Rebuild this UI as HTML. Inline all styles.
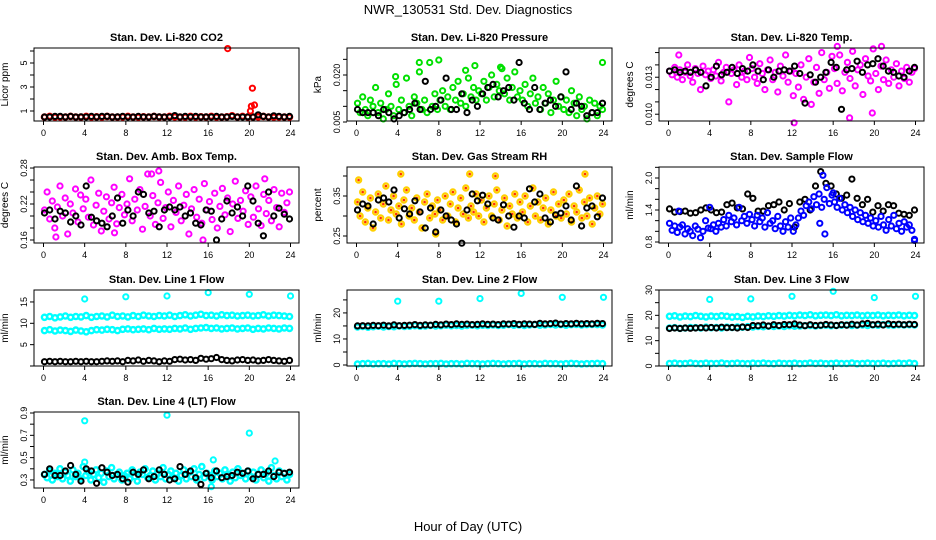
<!DOCTYPE html>
<html><head><meta charset="utf-8"><style>
html,body{margin:0;padding:0;background:#fff}
svg{display:block;font-family:"Liberation Sans",Arial,sans-serif}
</style></head><body>
<svg id="chart" width="936" height="540" viewBox="0 0 936 540" xmlns="http://www.w3.org/2000/svg">
<rect width="936" height="540" fill="#fff"/>
<text x="468" y="14" text-anchor="middle" font-size="13">NWR_130531  Std. Dev. Diagnostics</text>
<text x="468" y="531" text-anchor="middle" font-size="13">Hour of Day (UTC)</text>
<g id="plots"></g>
</svg>
<script>
// ---- data ----
const hourTicks=[0,4,8,12,16,20,24];
const co2Red=[0.5,0.55,0.5,0.52,0.5,0.55,0.5,0.5,0.55,0.5,0.52,0.5,0.55,0.5,0.5,0.52,0.55,0.5,0.5,0.52,0.5,0.55,0.5,0.5,0.55,0.52,0.5,0.5,0.55,0.5,0.52,0.5,0.55,0.5,0.5,0.52,0.6,0.5,0.55,0.5,0.5,0.52,0.55,0.5,0.5,0.52,0.5,0.5];
const co2Black=[0.5,0.5,0.55,0.55,0.5,0.55,0.5,0.52,0.5,0.55,0.5,0.55,0.55,0.5,0.52,0.55,0.5,0.5,0.55,0.5,0.5,0.55,0.52,0.5,0.5,0.62,0.5,0.55,0.5,0.55,0.5,0.52,0.5,0.55,0.5,0.5,0.55,0.5,0.5,0.52,0.5,0.68,0.55,0.5,0.6,0.55,0.5,0.55];
const co2ExtraHours=[17.9,20.3,20.2,20.5,20.1];
const co2ExtraVals=[6.2,2.9,1.4,1.5,1.0];
const presGreen=[0.011,0.008,0.013,0.009,0.007,0.012,0.010,0.016,0.008,0.011,0.006,0.009,0.014,0.010,0.007,0.017,
0.009,0.012,0.008,0.019,0.010,0.007,0.013,0.011,0.021,0.009,0.012,0.008,0.024,0.010,0.014,0.009,
0.012,0.015,0.010,0.013,0.009,0.016,0.012,0.018,0.011,0.014,0.010,0.019,0.013,0.016,0.012,0.015,
0.014,0.018,0.012,0.016,0.020,0.013,0.017,0.015,0.022,0.014,0.019,0.012,0.016,0.021,0.013,0.015,
0.012,0.017,0.010,0.014,0.019,0.011,0.013,0.009,0.016,0.011,0.014,0.008,0.012,0.018,0.010,0.013,
0.009,0.012,0.008,0.015,0.011,0.007,0.013,0.009,0.010,0.006,0.012,0.008,0.011,0.007,0.010,0.009];
const presBlack=[0.009,0.008,0.008,0.008,0.007,0.009,0.008,0.006,0.007,0.008,0.009,0.011,0.009,0.018,0.009,0.010,0.012,0.019,0.009,0.009,0.014,0.008,0.012,0.010,0.014,0.016,0.017,0.013,0.015,0.016,0.012,0.024,0.011,0.009,0.016,0.009,0.011,0.012,0.010,0.013,0.021,0.009,0.011,0.010,0.007,0.008,0.008,0.011];
const presExtraHours=[6.1,8.0,23.9,11.5,14.0,3.8,10.6];
const presExtraVals=[0.024,0.0248,0.024,0.023,0.0225,0.0195,0.0215];
const tempMag=[0.0135,0.0132,0.0138,0.0130,0.0136,0.0128,0.0134,0.0140,0.0131,0.0126,0.0137,0.0133,0.0120,0.0139,0.0132,0.0135,
0.0129,0.0136,0.0131,0.0142,0.0127,0.0134,0.0138,0.0110,0.0133,0.0136,0.0124,0.0140,0.0130,0.0135,0.0128,0.0146,
0.0137,0.0130,0.0125,0.0141,0.0133,0.0120,0.0136,0.0144,0.0128,0.0134,0.0118,0.0139,0.0131,0.0148,0.0126,0.0135,
0.0115,0.0133,0.0122,0.0140,0.0112,0.0130,0.0145,0.0108,0.0126,0.0138,0.0117,0.0150,0.0128,0.0134,0.0121,0.0147,
0.0137,0.0125,0.0148,0.0119,0.0134,0.0142,0.0129,0.0151,0.0123,0.0136,0.0140,0.0116,0.0145,0.0131,0.0127,0.0153,
0.0133,0.0120,0.0139,0.0128,0.0144,0.0125,0.0136,0.0130,0.0141,0.0123,0.0135,0.0129,0.0138,0.0126,0.0134,0.0137];
const tempBlack=[0.0135,0.0136,0.0134,0.0135,0.0134,0.0136,0.0134,0.0123,0.0130,0.0139,0.0132,0.0134,0.0138,0.0133,0.0137,0.0135,0.0140,0.0135,0.0128,0.0136,0.0130,0.0135,0.0136,0.0135,0.0139,0.0133,0.0109,0.0132,0.0126,0.0130,0.0134,0.0142,0.0138,0.0104,0.0136,0.0137,0.0143,0.0134,0.0140,0.0141,0.0145,0.0139,0.0135,0.0134,0.0131,0.0130,0.0135,0.0138];
const tempExtraHours=[12.2,17.6,20.7,16.4,19.8,1.0];
const tempExtraVals=[0.0093,0.0097,0.0155,0.0155,0.0101,0.0148];
const ambMag=[0.210,0.240,0.195,0.225,0.180,0.215,0.250,0.200,0.230,0.170,0.220,0.205,0.245,0.190,0.235,0.212,
0.228,0.198,0.260,0.185,0.218,0.238,0.175,0.208,0.232,0.195,0.222,0.248,0.187,0.214,0.236,0.202,
0.220,0.262,0.192,0.228,0.210,0.244,0.178,0.216,0.270,0.200,0.234,0.186,0.222,0.256,0.196,0.214,
0.240,0.182,0.226,0.206,0.250,0.192,0.218,0.236,0.170,0.212,0.244,0.198,0.228,0.188,0.254,0.210,
0.224,0.194,0.238,0.180,0.216,0.246,0.202,0.230,0.174,0.220,0.258,0.196,0.226,0.208,0.242,0.186,
0.232,0.198,0.250,0.212,0.184,0.236,0.204,0.226,0.192,0.244,0.214,0.182,0.238,0.206,0.222,0.240];
const ambBlack=[0.205,0.210,0.195,0.208,0.205,0.190,0.200,0.185,0.250,0.198,0.192,0.188,0.182,0.200,0.230,0.188,0.210,0.200,0.240,0.236,0.205,0.208,0.182,0.210,0.215,0.210,0.215,0.200,0.205,0.188,0.185,0.210,0.208,0.160,0.195,0.225,0.205,0.215,0.200,0.250,0.225,0.188,0.167,0.240,0.200,0.213,0.203,0.195];
const ambExtraHours=[11.2,10.5,1.2,15.5,6.9,21.5];
const ambExtraVals=[0.275,0.270,0.165,0.160,0.172,0.262];
const rhOrange=[0.335,0.300,0.360,0.285,0.320,0.345,0.270,0.310,0.355,0.295,0.330,0.375,0.290,0.315,0.350,0.305,
0.325,0.280,0.340,0.365,0.300,0.320,0.290,0.345,0.310,0.270,0.335,0.355,0.295,0.325,0.305,0.340,
0.315,0.290,0.350,0.300,0.330,0.360,0.285,0.320,0.345,0.305,0.370,0.295,0.325,0.310,0.355,0.300,
0.340,0.285,0.320,0.350,0.300,0.330,0.365,0.290,0.315,0.345,0.275,0.325,0.305,0.355,0.295,0.335,
0.310,0.350,0.285,0.325,0.370,0.300,0.335,0.290,0.320,0.345,0.280,0.315,0.360,0.300,0.330,0.295,
0.340,0.305,0.355,0.285,0.325,0.310,0.365,0.295,0.335,0.300,0.345,0.280,0.320,0.350,0.305,0.330];
const rhBlack=[0.315,0.330,0.325,0.280,0.340,0.345,0.335,0.365,0.295,0.318,0.305,0.338,0.310,0.270,0.320,0.260,0.315,0.300,0.290,0.280,0.232,0.315,0.355,0.338,0.352,0.330,0.295,0.290,0.328,0.300,0.272,0.300,0.295,0.368,0.335,0.355,0.295,0.285,0.303,0.307,0.325,0.290,0.375,0.275,0.320,0.325,0.298,0.345];
const rhExtraHours=[0.2,4.3,11.0,13.5,22.2,7.7];
const rhExtraVals=[0.39,0.405,0.405,0.40,0.405,0.255];
const flowBlue=[1.15,1.02,1.10,0.98,1.08,1.12,0.95,1.05,1.00,0.92,1.10,1.04,0.88,1.00,1.20,1.06,
1.05,1.12,1.00,1.15,1.08,1.22,1.10,1.30,1.18,1.25,1.12,1.45,1.20,1.28,1.15,1.32,
1.22,1.10,1.30,1.18,1.25,1.08,1.35,1.15,1.20,1.05,1.28,1.10,1.00,1.18,1.08,1.25,
1.00,1.12,1.25,1.38,1.30,1.48,1.55,1.42,1.65,1.50,1.70,1.45,1.60,1.82,1.52,1.68,
1.55,1.45,1.62,1.40,1.50,1.35,1.45,1.28,1.40,1.22,1.35,1.18,1.30,1.15,1.25,1.10,
1.20,1.08,1.28,1.12,1.02,1.22,1.10,1.30,1.05,1.15,1.00,1.18,1.08,1.12,1.02,0.85];
const flowBlack=[1.42,1.36,1.37,1.38,1.34,1.35,1.40,1.44,1.40,1.35,1.36,1.50,1.53,1.44,1.42,1.70,1.62,1.38,1.38,1.48,1.50,1.55,1.40,1.52,1.08,1.55,1.60,1.40,1.85,2.12,1.90,1.85,1.70,1.62,1.68,1.98,1.62,1.50,1.60,1.36,1.48,1.38,1.50,1.48,1.34,1.32,1.30,1.40];
const flowExtraHours=[15.0,15.2,14.7,4.0,1.0,16.0,23.9];
const flowExtraVals=[2.05,0.95,1.15,1.45,1.38,1.72,0.83];
const line1Upper=[11.4,11.6,11.3,11.5,11.7,11.4,11.6,11.5,11.8,11.4,11.6,11.7,11.5,11.9,11.6,11.7,11.5,11.8,11.6,11.9,11.7,11.6,11.8,11.7,11.9,11.6,11.8,12.0,11.7,11.9,12.1,11.8,11.9,11.7,12.0,11.8,11.9,11.7,11.8,11.9,11.7,11.8,12.0,11.7,11.9,11.8,11.7,11.6];
const line1Lower=[8.3,8.5,8.2,8.4,8.3,8.1,8.4,8.2,8.0,8.3,8.5,8.4,8.6,8.5,8.3,8.6,8.7,8.5,8.6,8.7,8.5,8.8,8.6,8.7,8.6,8.8,8.7,8.9,8.6,8.8,8.9,9.0,8.8,8.9,8.7,8.8,8.9,8.7,8.8,8.9,8.6,8.8,8.7,8.9,8.8,8.7,8.9,8.8];
const line1Black=[1.0,1.1,1.0,1.1,1.0,1.0,1.1,1.0,1.1,1.0,1.0,1.1,1.2,1.1,1.2,1.0,1.3,1.2,1.4,1.1,1.3,1.2,1.0,1.2,1.1,1.5,1.6,1.4,1.5,1.3,1.8,1.6,1.7,2.0,1.5,1.3,1.2,1.4,1.5,1.3,1.4,1.2,1.3,1.5,1.3,1.2,1.1,1.3];
const line1ExtraHours=[4,8,12,16,20,24];
const line1ExtraVals=[15.7,16.2,16.4,17.2,16.8,16.4];
const line2Cyan=[14.6,14.8,14.5,14.7,14.9,14.6,14.8,14.7,15.0,14.8,14.9,15.1,14.9,15.0,15.2,15.0,15.1,15.3,15.1,15.2,15.0,15.2,15.3,15.1,15.3,15.2,15.4,15.2,15.3,15.5,15.3,15.4,15.2,15.4,15.5,15.3,15.4,15.6,15.4,15.5,15.3,15.5,15.6,15.4,15.5,15.6,15.5,15.4];
const line2Low=[0.4,0.5,0.6,0.4,0.5,0.5,0.4,0.6,0.5,0.4,0.5,0.6,0.5,0.4,0.5,0.5,0.6,0.4,0.5,0.5,0.4,0.6,0.5,0.5,0.4,0.5,0.6,0.5,0.4,0.5,0.5,0.6,0.4,0.5,0.5,0.4,0.6,0.5,0.5,0.4,0.5,0.6,0.5,0.4,0.5,0.5,0.6,0.5];
const line2Black=[15.0,15.1,15.0,15.2,15.1,15.3,15.0,15.4,15.1,15.2,15.3,15.5,15.2,15.4,15.3,15.6,15.4,15.7,15.5,15.8,15.6,15.7,15.5,15.6,15.8,15.6,15.7,15.5,15.8,15.7,15.9,15.6,15.8,15.7,15.6,16.0,15.8,15.9,16.1,15.7,15.9,15.8,16.0,15.8,15.9,15.8,16.0,15.9];
const line2ExtraHours=[4,8,12,16,20,24];
const line2ExtraVals=[24.5,24.5,25.5,27.5,26.0,26.0];
const line3Upper=[19.6,19.8,19.4,19.7,19.5,19.9,19.6,19.4,19.7,19.5,19.8,19.6,19.3,19.5,19.2,19.6,19.4,19.7,19.5,19.8,19.6,19.9,19.7,20.0,19.8,20.1,19.9,20.2,19.8,20.0,20.1,19.9,20.2,19.8,20.0,19.9,20.1,19.8,20.0,19.9,20.1,19.8,20.0,19.9,20.1,19.8,20.0,19.9];
const line3Mid=[15.0,15.1,14.9,15.0,15.2,15.1,15.0,15.3,15.1,15.2,15.0,15.3,15.2,15.4,15.3,15.5,15.4,15.6,15.5,15.7,15.6,15.8,15.6,15.9,15.7,15.8,15.9,16.0,15.8,16.0,16.1,15.9,16.0,16.1,16.2,16.0,16.1,16.2,16.0,16.2,16.1,16.3,16.2,16.1,16.3,16.2,16.3,16.2];
const line3Low=[1.0,1.1,0.9,1.0,1.2,1.0,0.9,1.1,1.0,1.0,1.2,0.9,1.0,1.1,1.0,0.9,1.1,1.0,1.2,1.0,0.9,1.1,1.0,1.0,1.1,0.9,1.0,1.2,1.0,1.1,0.9,1.0,1.1,1.0,1.0,1.2,0.9,1.0,1.1,1.0,1.0,1.1,0.9,1.0,1.1,1.0,1.2,1.0];
const line3Black=[14.8,15.0,14.8,15.0,14.9,15.0,15.1,15.0,15.2,15.0,15.3,15.1,15.2,15.0,15.4,15.2,16.0,15.9,16.2,15.8,16.3,16.0,16.4,16.3,16.6,16.2,15.9,16.3,16.0,16.1,16.4,16.2,16.0,16.3,16.1,16.5,16.2,16.6,16.8,16.3,16.5,16.2,16.6,16.4,16.5,16.3,16.5,16.4];
const line3ExtraHours=[4,8,12,16,20,24];
const line3ExtraVals=[26.3,26.5,27.5,29.5,27.0,27.5];
const line4Cyan=[0.35,0.32,0.38,0.30,0.36,0.33,0.40,0.31,0.37,0.34,0.29,0.39,0.33,0.36,0.31,0.42,
0.34,0.37,0.30,0.35,0.39,0.32,0.36,0.28,0.38,0.33,0.41,0.31,0.35,0.37,0.30,0.34,
0.36,0.31,0.39,0.33,0.29,0.37,0.35,0.40,0.32,0.34,0.38,0.30,0.36,0.33,0.41,0.31,
0.35,0.38,0.32,0.36,0.29,0.34,0.39,0.31,0.37,0.33,0.40,0.30,0.35,0.42,0.32,0.36,
0.34,0.30,0.38,0.33,0.36,0.31,0.39,0.35,0.29,0.37,0.32,0.40,0.34,0.36,0.31,0.38,
0.33,0.37,0.30,0.35,0.39,0.32,0.36,0.29,0.41,0.34,0.31,0.38,0.33,0.36,0.30,0.35];
const line4Black=[0.35,0.40,0.34,0.34,0.38,0.43,0.35,0.29,0.40,0.38,0.27,0.41,0.37,0.34,0.35,0.31,0.28,0.37,0.35,0.39,0.31,0.33,0.39,0.35,0.30,0.31,0.42,0.35,0.38,0.32,0.26,0.36,0.32,0.38,0.32,0.33,0.34,0.37,0.36,0.38,0.31,0.35,0.35,0.38,0.33,0.37,0.36,0.37];
const line4ExtraHours=[4.0,12.0,20.0,4.0,16.5,22.5,16.3];
const line4ExtraVals=[0.83,0.88,0.72,0.46,0.48,0.47,0.24];

// ---- layout ----
const NS='http://www.w3.org/2000/svg';
const root=document.getElementById('plots');
function mk(tag,attrs,parent){const e=document.createElementNS(NS,tag);for(const k in attrs)e.setAttribute(k,attrs[k]);(parent||root).appendChild(e);return e;}
function panel(p){
  const g=mk('g',{});
  
  
  const L=p.left,T=p.top,W=265,B=p.bottom;
  const xs=h=>L+9.5+h*(247/24);
  const ys=v=>B-(v-p.ymin)/(p.ymax-p.ymin)*(B-T);
  const t=mk('text',{x:L+W/2,y:T-7,'text-anchor':'middle','font-size':11,'font-weight':'bold'},g);
  t.textContent=p.title;
  
  
  const yl=mk('text',{transform:`translate(${L-26},${(T+B)/2}) rotate(-90)`,'text-anchor':'middle','font-size':10},g);
  yl.textContent=p.ylab;
  
  
  p.series.forEach(s=>{
    const sg=mk('g',{fill:'none',stroke:s.color,'stroke-width':s.sw||2},g);
    
    
    const n=s.vals.length;
    s.vals.forEach((v,i)=>{
      const h=s.hours?s.hours[i]:(0.1+i*(23.8/(n-1)));
      const c=mk('circle',{cx:xs(h).toFixed(1),cy:ys(v).toFixed(1),r:s.r||2.6},sg);
      
      
      if(s.inner){const d=mk('circle',{cx:xs(h).toFixed(1),cy:ys(v).toFixed(1),r:1.3,fill:s.inner,stroke:'none'},sg);
        
        }
    });
  });
  const box=mk('rect',{x:L,y:T,width:W,height:B-T,fill:'none',stroke:'#000','stroke-width':1},g);
  
  
  hourTicks.forEach(h=>{
    mk('line',{x1:xs(h),x2:xs(h),y1:B,y2:B+4,stroke:'#000'},g);
    const tl=mk('text',{x:xs(h),y:B+15,'text-anchor':'middle','font-size':9},g);
    tl.textContent=h;
    
    
  });
  p.yticks.forEach(v=>{
    const y=ys(v);
    mk('line',{x1:L-4,x2:L,y1:y,y2:y,stroke:'#000'},g);
  });
  p.ylabels.forEach(v=>{
    const y=ys(+v);
    const tl=mk('text',{transform:`translate(${L-7},${y}) rotate(-90)`,'text-anchor':'middle','font-size':9},g);
    tl.textContent=v;
    
    
  });
}
const C=[34,347,659];
const R=[[48,121],[167,243],[290,366],[412,488]];
panel({name:'co2',title:'Stan. Dev. Li-820 CO2',ylab:'Licor ppm',left:C[0],top:R[0][0],bottom:R[0][1],ymin:0.167,ymax:6.25,yticks:[1,2,3,4,5,6],ylabels:['1','3','5'],
 series:[{id:'red',color:'#ff0000',sw:2.4,vals:co2Red},{id:'black',color:'#000',vals:co2Black},{id:'red-extra',color:'#ff0000',vals:co2ExtraVals,hours:co2ExtraHours}]});
panel({name:'pressure',title:'Stan. Dev. Li-820 Pressure',ylab:'kPa',left:C[1],top:R[0][0],bottom:R[0][1],ymin:0.00532,ymax:0.02862,yticks:[0.005,0.010,0.015,0.020,0.025],ylabels:['0.005','0.020'],
 series:[{id:'green',color:'#00e000',vals:presGreen},{id:'green-extra',color:'#00e000',vals:presExtraVals,hours:presExtraHours},{id:'black',color:'#000',vals:presBlack}]});
panel({name:'temp',title:'Stan. Dev. Li-820 Temp.',ylab:'degrees C',left:C[2],top:R[0][0],bottom:R[0][1],ymin:0.00945,ymax:0.01537,yticks:[0.010,0.011,0.012,0.013,0.014,0.015],ylabels:['0.010','0.013'],
 series:[{id:'magenta',color:'#ff00ff',vals:tempMag},{id:'magenta-extra',color:'#ff00ff',vals:tempExtraVals,hours:tempExtraHours},{id:'black',color:'#000',vals:tempBlack}]});
panel({name:'ambtemp',title:'Stan. Dev. Amb. Box Temp.',ylab:'degrees C',left:C[0],top:R[1][0],bottom:R[1][1],ymin:0.155,ymax:0.2817,yticks:[0.16,0.18,0.20,0.22,0.24,0.26,0.28],ylabels:['0.16','0.22','0.28'],
 series:[{id:'magenta',color:'#ff00ff',vals:ambMag},{id:'magenta-extra',color:'#ff00ff',vals:ambExtraVals,hours:ambExtraHours},{id:'black',color:'#000',vals:ambBlack}]});
panel({name:'rh',title:'Stan. Dev. Gas Stream RH',ylab:'percent',left:C[1],top:R[1][0],bottom:R[1][1],ymin:0.2325,ymax:0.4225,yticks:[0.25,0.30,0.35,0.40],ylabels:['0.25','0.35'],
 series:[{id:'orange',color:'#ffd000',inner:'#ff3000',sw:2.2,vals:rhOrange},{id:'orange-extra',color:'#ffd000',inner:'#ff3000',sw:2.2,vals:rhExtraVals,hours:rhExtraHours},{id:'black',color:'#000',vals:rhBlack}]});
panel({name:'sampleflow',title:'Stan. Dev. Sample Flow',ylab:'ml/min',left:C[2],top:R[1][0],bottom:R[1][1],ymin:0.781,ymax:2.206,yticks:[0.8,1.0,1.2,1.4,1.6,1.8,2.0,2.2],ylabels:['0.8','1.4','2.0'],
 series:[{id:'black',color:'#000',vals:flowBlack},{id:'blue',color:'#0000ff',vals:flowBlue},{id:'blue-extra',color:'#0000ff',vals:flowExtraVals,hours:flowExtraHours}]});
panel({name:'line1',title:'Stan. Dev. Line 1 Flow',ylab:'ml/min',left:C[0],top:R[2][0],bottom:R[2][1],ymin:0,ymax:17.8,yticks:[0,5,10,15],ylabels:['5','10','15'],
 series:[{id:'cyan-upper',color:'#00ffff',sw:2.4,vals:line1Upper},{id:'cyan-lower',color:'#00ffff',sw:2.4,vals:line1Lower},{id:'cyan-extra',color:'#00ffff',vals:line1ExtraVals,hours:line1ExtraHours},{id:'black',color:'#000',vals:line1Black}]});
panel({name:'line2',title:'Stan. Dev. Line 2 Flow',ylab:'ml/min',left:C[1],top:R[2][0],bottom:R[2][1],ymin:-0.38,ymax:28.8,yticks:[0,5,10,15,20,25],ylabels:['0','10','20'],
 series:[{id:'cyan',color:'#00ffff',sw:2.4,vals:line2Cyan},{id:'cyan-low',color:'#00ffff',sw:2.4,vals:line2Low},{id:'cyan-extra',color:'#00ffff',vals:line2ExtraVals,hours:line2ExtraHours},{id:'black',color:'#000',vals:line2Black}]});
panel({name:'line3',title:'Stan. Dev. Line 3 Flow',ylab:'ml/min',left:C[2],top:R[2][0],bottom:R[2][1],ymin:0,ymax:30,yticks:[0,5,10,15,20,25,30],ylabels:['0','10','20','30'],
 series:[{id:'cyan-upper',color:'#00ffff',sw:2.4,vals:line3Upper},{id:'cyan-mid',color:'#00ffff',sw:2.4,vals:line3Mid},{id:'cyan-low',color:'#00ffff',sw:2.4,vals:line3Low},{id:'cyan-extra',color:'#00ffff',vals:line3ExtraVals,hours:line3ExtraHours},{id:'black',color:'#000',vals:line3Black}]});
panel({name:'line4',title:'Stan. Dev. Line 4 (LT) Flow',ylab:'ml/min',left:C[0],top:R[3][0],bottom:R[3][1],ymin:0.228,ymax:0.909,yticks:[0.3,0.4,0.5,0.6,0.7,0.8,0.9],ylabels:['0.3','0.5','0.7','0.9'],
 series:[{id:'cyan',color:'#00ffff',sw:2.4,vals:line4Cyan},{id:'cyan-extra',color:'#00ffff',vals:line4ExtraVals,hours:line4ExtraHours},{id:'black',color:'#000',vals:line4Black}]});
</script>
</body></html>
